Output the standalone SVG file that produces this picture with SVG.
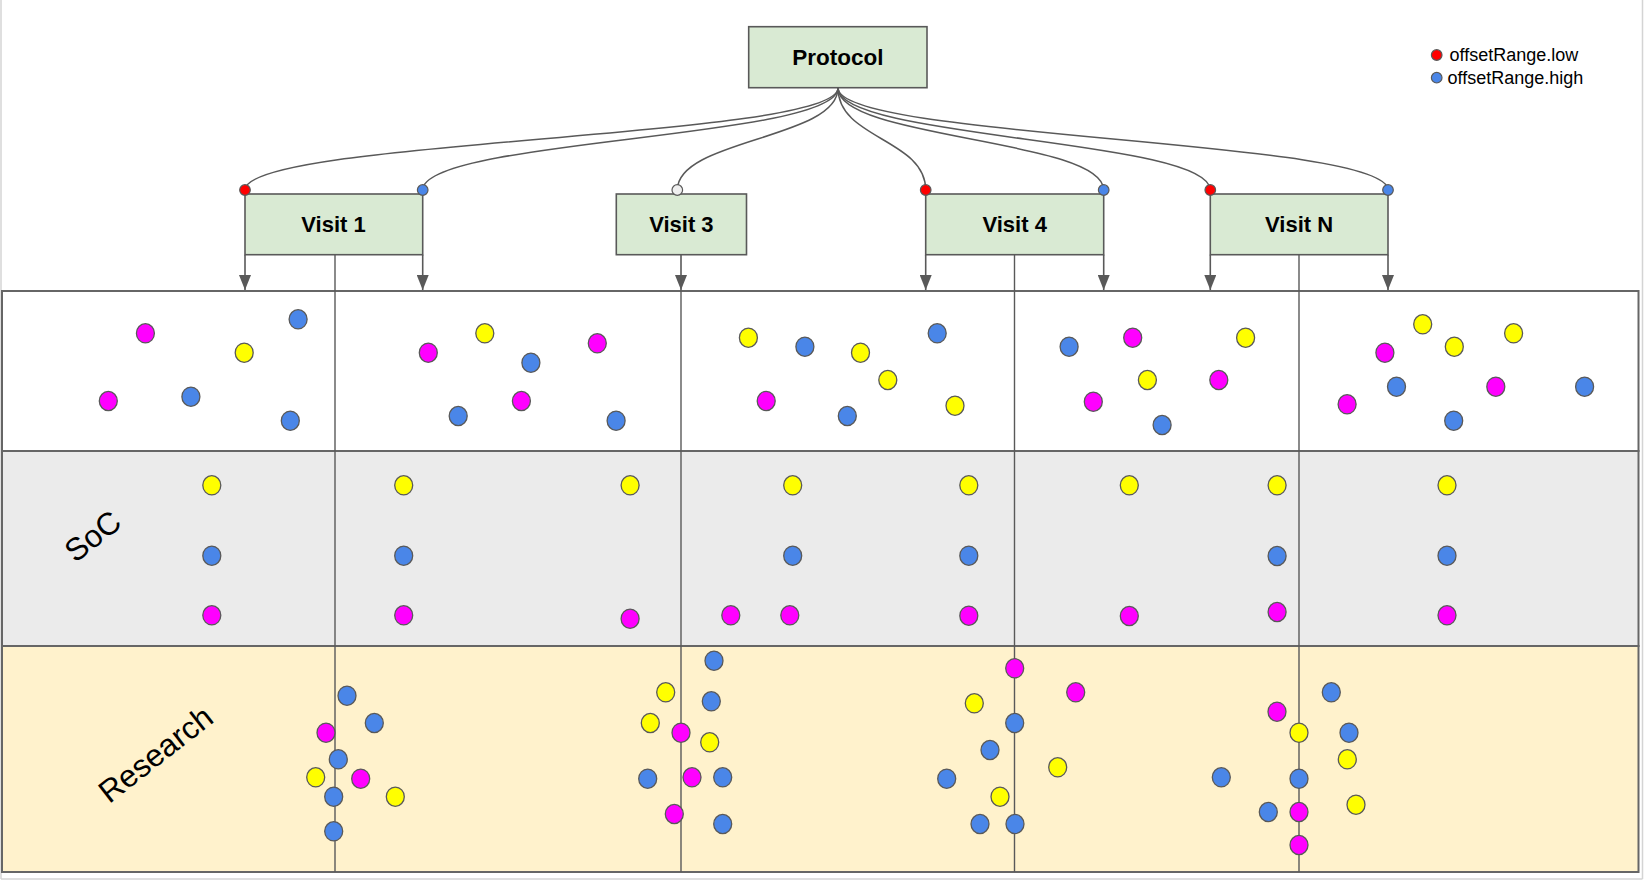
<svg xmlns="http://www.w3.org/2000/svg" width="1644" height="883" viewBox="0 0 1644 883">
<style>
  .band{stroke:#666666;stroke-width:2}
  .node rect{fill:#d9ead3;stroke:#595959;stroke-width:1.6}
  .lbl{font-family:"Liberation Sans",Arial,sans-serif;font-weight:bold;font-size:22px;fill:#000;text-anchor:middle}
  .rot{font-family:"Liberation Sans",Arial,sans-serif;font-size:31.5px;fill:#000;text-anchor:middle}
  .leg{font-family:"Liberation Sans",Arial,sans-serif;font-size:18px;fill:#000}
  .c{fill:none;stroke:#595959;stroke-width:1.5}
  .v{fill:none;stroke:#595959;stroke-width:1.4}
  .a{fill:none;stroke:#595959;stroke-width:1.6}
  .pt{stroke:#595959;stroke-width:1.2}
  .d ellipse{stroke:#595959;stroke-width:1.3}
  .m{fill:#ff00ff}
  .y{fill:#ffff00}
  .b{fill:#4a86e8}
</style>
<defs>
  <marker id="arr" viewBox="0 0 15 12" refX="15" refY="6" markerWidth="15" markerHeight="12" markerUnits="userSpaceOnUse" orient="auto">
    <path d="M0,0 L15,6 L0,12 z" fill="#595959"/>
  </marker>
</defs>
<rect x="0" y="0" width="1644" height="883" fill="#ffffff"/>
<g id="frame" stroke="#d4d4d4" stroke-width="1.5" fill="none">
  <line x1="1" y1="0" x2="1" y2="879"/>
  <line x1="1642.5" y1="0" x2="1642.5" y2="879"/>
  <line x1="1" y1="879" x2="1642.5" y2="879"/>
</g>
<g id="bands">
  <rect class="band" x="2" y="291" width="1636.5" height="160" fill="#ffffff"/>
  <rect class="band" x="2" y="451" width="1636.5" height="195" fill="#ebebeb"/>
  <rect class="band" x="2" y="646" width="1636.5" height="226" fill="#fff2cc"/>
  <text class="rot" transform="translate(92.5,536) rotate(-38)" x="0" y="11">SoC</text>
  <text class="rot" transform="translate(155.5,754) rotate(-38)" x="0" y="11">Research</text>
</g>
<g id="connectors">
  <path class="c" d="M838,88 C838,139 245,139 245,190"/>
  <path class="c" d="M838,88 C838,139 422.7,139 422.7,190"/>
  <path class="c" d="M838,88 C838,139 677.3,139 677.3,190"/>
  <path class="c" d="M838,88 C838,139 925.7,139 925.7,190"/>
  <path class="c" d="M838,88 C838,139 1103.7,139 1103.7,190"/>
  <path class="c" d="M838,88 C838,139 1210.3,139 1210.3,190"/>
  <path class="c" d="M838,88 C838,139 1388,139 1388,190"/>
  <line class="a" x1="245" y1="254.7" x2="245" y2="290" marker-end="url(#arr)"/>
  <line class="a" x1="422.7" y1="254.7" x2="422.7" y2="290" marker-end="url(#arr)"/>
  <line class="a" x1="681" y1="254.7" x2="681" y2="290" marker-end="url(#arr)"/>
  <line class="a" x1="925.7" y1="254.7" x2="925.7" y2="290" marker-end="url(#arr)"/>
  <line class="a" x1="1103.7" y1="254.7" x2="1103.7" y2="290" marker-end="url(#arr)"/>
  <line class="a" x1="1210.3" y1="254.7" x2="1210.3" y2="290" marker-end="url(#arr)"/>
  <line class="a" x1="1388" y1="254.7" x2="1388" y2="290" marker-end="url(#arr)"/>
  <line class="v" x1="335" y1="254.7" x2="335" y2="872"/>
  <line class="v" x1="681" y1="290" x2="681" y2="872"/>
  <line class="v" x1="1014.5" y1="254.7" x2="1014.5" y2="872"/>
  <line class="v" x1="1299" y1="254.7" x2="1299" y2="872"/>
</g>
<g id="protocol" class="node">
  <rect x="748.7" y="26.7" width="178.3" height="61"/>
  <text class="lbl" x="837.8" y="65.2" style="font-size:22.5px">Protocol</text>
</g>
<g id="visit1" class="node">
  <rect x="245" y="194" width="177.7" height="60.7"/>
  <text class="lbl" x="333.5" y="232.3">Visit 1</text>
</g>
<g id="visit3" class="node">
  <rect x="616.3" y="194" width="130.2" height="60.7"/>
  <text class="lbl" x="681.4" y="232.3">Visit 3</text>
</g>
<g id="visit4" class="node">
  <rect x="925.7" y="194" width="178" height="60.7"/>
  <text class="lbl" x="1014.7" y="232.3">Visit 4</text>
</g>
<g id="visitN" class="node">
  <rect x="1210.3" y="194" width="177.7" height="60.7"/>
  <text class="lbl" x="1299.1" y="232.3">Visit N</text>
</g>
<g id="ports">
  <circle class="pt" cx="245" cy="190" r="5.3" fill="#ff0000"/>
  <circle class="pt" cx="422.7" cy="190" r="5.3" fill="#4a86e8"/>
  <circle class="pt" cx="677.3" cy="190" r="5.3" fill="#efefef"/>
  <circle class="pt" cx="925.7" cy="190" r="5.3" fill="#ff0000"/>
  <circle class="pt" cx="1103.7" cy="190" r="5.3" fill="#4a86e8"/>
  <circle class="pt" cx="1210.3" cy="190" r="5.3" fill="#ff0000"/>
  <circle class="pt" cx="1388" cy="190" r="5.3" fill="#4a86e8"/>
</g>
<g id="legend">
  <circle class="pt" cx="1436.7" cy="55" r="5.3" fill="#ff0000"/>
  <circle class="pt" cx="1436.7" cy="77.7" r="5.3" fill="#4a86e8"/>
  <text class="leg" x="1449.5" y="61">offsetRange.low</text>
  <text class="leg" x="1447.5" y="83.5">offsetRange.high</text>
</g>
<g id="dots-top" class="d">
  <ellipse class="m" cx="145.4" cy="333.3" rx="9" ry="9.6"/>
  <ellipse class="b" cx="298.1" cy="319.3" rx="9" ry="9.6"/>
  <ellipse class="y" cx="244.2" cy="352.7" rx="9" ry="9.6"/>
  <ellipse class="m" cx="108.3" cy="401" rx="9" ry="9.6"/>
  <ellipse class="b" cx="190.9" cy="396.7" rx="9" ry="9.6"/>
  <ellipse class="b" cx="290.3" cy="420.7" rx="9" ry="9.6"/>
  <ellipse class="m" cx="428.3" cy="352.7" rx="9" ry="9.6"/>
  <ellipse class="y" cx="484.8" cy="333.3" rx="9" ry="9.6"/>
  <ellipse class="m" cx="597.3" cy="343.3" rx="9" ry="9.6"/>
  <ellipse class="b" cx="530.9" cy="362.7" rx="9" ry="9.6"/>
  <ellipse class="m" cx="521.4" cy="401" rx="9" ry="9.6"/>
  <ellipse class="b" cx="458.2" cy="416" rx="9" ry="9.6"/>
  <ellipse class="b" cx="616.1" cy="420.7" rx="9" ry="9.6"/>
  <ellipse class="y" cx="748.4" cy="337.7" rx="9" ry="9.6"/>
  <ellipse class="b" cx="804.9" cy="346.7" rx="9" ry="9.6"/>
  <ellipse class="m" cx="766.2" cy="401" rx="9" ry="9.6"/>
  <ellipse class="y" cx="860.5" cy="352.7" rx="9" ry="9.6"/>
  <ellipse class="b" cx="937.2" cy="333.3" rx="9" ry="9.6"/>
  <ellipse class="y" cx="887.8" cy="380" rx="9" ry="9.6"/>
  <ellipse class="y" cx="955" cy="405.7" rx="9" ry="9.6"/>
  <ellipse class="b" cx="847.3" cy="416" rx="9" ry="9.6"/>
  <ellipse class="b" cx="1069.1" cy="346.7" rx="9" ry="9.6"/>
  <ellipse class="m" cx="1132.7" cy="337.7" rx="9" ry="9.6"/>
  <ellipse class="y" cx="1245.6" cy="337.7" rx="9" ry="9.6"/>
  <ellipse class="y" cx="1147.4" cy="380" rx="9" ry="9.6"/>
  <ellipse class="m" cx="1218.8" cy="380" rx="9" ry="9.6"/>
  <ellipse class="m" cx="1093.3" cy="401.7" rx="9" ry="9.6"/>
  <ellipse class="b" cx="1162.1" cy="425" rx="9" ry="9.6"/>
  <ellipse class="y" cx="1422.7" cy="324.3" rx="9" ry="9.6"/>
  <ellipse class="y" cx="1513.6" cy="333.3" rx="9" ry="9.6"/>
  <ellipse class="m" cx="1384.9" cy="352.7" rx="9" ry="9.6"/>
  <ellipse class="y" cx="1454.3" cy="346.7" rx="9" ry="9.6"/>
  <ellipse class="b" cx="1396.5" cy="386.7" rx="9" ry="9.6"/>
  <ellipse class="m" cx="1495.8" cy="386.7" rx="9" ry="9.6"/>
  <ellipse class="b" cx="1584.6" cy="386.7" rx="9" ry="9.6"/>
  <ellipse class="m" cx="1347.1" cy="404.3" rx="9" ry="9.6"/>
  <ellipse class="b" cx="1453.7" cy="420.7" rx="9" ry="9.6"/>
</g>
<g id="dots-soc" class="d">
  <ellipse class="y" cx="211.8" cy="485.3" rx="9" ry="9.6"/>
  <ellipse class="b" cx="211.8" cy="555.7" rx="9" ry="9.6"/>
  <ellipse class="m" cx="211.8" cy="615.3" rx="9" ry="9.6"/>
  <ellipse class="y" cx="403.7" cy="485.3" rx="9" ry="9.6"/>
  <ellipse class="b" cx="403.7" cy="555.7" rx="9" ry="9.6"/>
  <ellipse class="m" cx="403.7" cy="615.3" rx="9" ry="9.6"/>
  <ellipse class="y" cx="630.1" cy="485.3" rx="9" ry="9.6"/>
  <ellipse class="m" cx="630.1" cy="618.7" rx="9" ry="9.6"/>
  <ellipse class="m" cx="730.8" cy="615.3" rx="9" ry="9.6"/>
  <ellipse class="y" cx="792.7" cy="485.3" rx="9" ry="9.6"/>
  <ellipse class="b" cx="792.7" cy="555.7" rx="9" ry="9.6"/>
  <ellipse class="m" cx="789.8" cy="615.3" rx="9" ry="9.6"/>
  <ellipse class="y" cx="968.8" cy="485.3" rx="9" ry="9.6"/>
  <ellipse class="b" cx="968.8" cy="555.7" rx="9" ry="9.6"/>
  <ellipse class="m" cx="968.8" cy="615.7" rx="9" ry="9.6"/>
  <ellipse class="y" cx="1129.3" cy="485.3" rx="9" ry="9.6"/>
  <ellipse class="m" cx="1129.3" cy="616" rx="9" ry="9.6"/>
  <ellipse class="y" cx="1277.1" cy="485.3" rx="9" ry="9.6"/>
  <ellipse class="b" cx="1277.1" cy="556" rx="9" ry="9.6"/>
  <ellipse class="m" cx="1277.1" cy="612" rx="9" ry="9.6"/>
  <ellipse class="y" cx="1447" cy="485.3" rx="9" ry="9.6"/>
  <ellipse class="b" cx="1447" cy="555.7" rx="9" ry="9.6"/>
  <ellipse class="m" cx="1447" cy="615.3" rx="9" ry="9.6"/>
</g>
<g id="dots-research" class="d">
  <ellipse class="b" cx="347" cy="695.7" rx="9" ry="9.6"/>
  <ellipse class="b" cx="374.3" cy="723" rx="9" ry="9.6"/>
  <ellipse class="m" cx="326" cy="732.7" rx="9" ry="9.6"/>
  <ellipse class="b" cx="338.3" cy="759.3" rx="9" ry="9.6"/>
  <ellipse class="y" cx="315.7" cy="777.3" rx="9" ry="9.6"/>
  <ellipse class="m" cx="360.7" cy="778.7" rx="9" ry="9.6"/>
  <ellipse class="b" cx="333.7" cy="796.7" rx="9" ry="9.6"/>
  <ellipse class="y" cx="395.3" cy="796.7" rx="9" ry="9.6"/>
  <ellipse class="b" cx="333.7" cy="831.3" rx="9" ry="9.6"/>
  <ellipse class="b" cx="714" cy="660.7" rx="9" ry="9.6"/>
  <ellipse class="y" cx="665.7" cy="692.3" rx="9" ry="9.6"/>
  <ellipse class="b" cx="711.3" cy="701.3" rx="9" ry="9.6"/>
  <ellipse class="y" cx="650.3" cy="723" rx="9" ry="9.6"/>
  <ellipse class="m" cx="681" cy="732.7" rx="9" ry="9.6"/>
  <ellipse class="y" cx="709.7" cy="742.3" rx="9" ry="9.6"/>
  <ellipse class="b" cx="647.7" cy="778.7" rx="9" ry="9.6"/>
  <ellipse class="m" cx="692" cy="777.3" rx="9" ry="9.6"/>
  <ellipse class="b" cx="722.7" cy="777.3" rx="9" ry="9.6"/>
  <ellipse class="m" cx="674.3" cy="814" rx="9" ry="9.6"/>
  <ellipse class="b" cx="722.7" cy="824" rx="9" ry="9.6"/>
  <ellipse class="m" cx="1014.7" cy="668.3" rx="9" ry="9.6"/>
  <ellipse class="m" cx="1075.7" cy="692.3" rx="9" ry="9.6"/>
  <ellipse class="y" cx="974.3" cy="703.3" rx="9" ry="9.6"/>
  <ellipse class="b" cx="1014.7" cy="723" rx="9" ry="9.6"/>
  <ellipse class="b" cx="990" cy="750" rx="9" ry="9.6"/>
  <ellipse class="y" cx="1057.7" cy="767.3" rx="9" ry="9.6"/>
  <ellipse class="b" cx="946.7" cy="778.7" rx="9" ry="9.6"/>
  <ellipse class="y" cx="1000" cy="796.7" rx="9" ry="9.6"/>
  <ellipse class="b" cx="980" cy="824" rx="9" ry="9.6"/>
  <ellipse class="b" cx="1015" cy="824" rx="9" ry="9.6"/>
  <ellipse class="b" cx="1331.3" cy="692.3" rx="9" ry="9.6"/>
  <ellipse class="m" cx="1277" cy="711.7" rx="9" ry="9.6"/>
  <ellipse class="y" cx="1299" cy="732.7" rx="9" ry="9.6"/>
  <ellipse class="b" cx="1349" cy="732.7" rx="9" ry="9.6"/>
  <ellipse class="y" cx="1347.3" cy="759.3" rx="9" ry="9.6"/>
  <ellipse class="b" cx="1221.3" cy="777.3" rx="9" ry="9.6"/>
  <ellipse class="b" cx="1299" cy="778.7" rx="9" ry="9.6"/>
  <ellipse class="y" cx="1356" cy="804.7" rx="9" ry="9.6"/>
  <ellipse class="b" cx="1268.3" cy="812" rx="9" ry="9.6"/>
  <ellipse class="m" cx="1299" cy="812" rx="9" ry="9.6"/>
  <ellipse class="m" cx="1299" cy="845" rx="9" ry="9.6"/>
</g>
</svg>
